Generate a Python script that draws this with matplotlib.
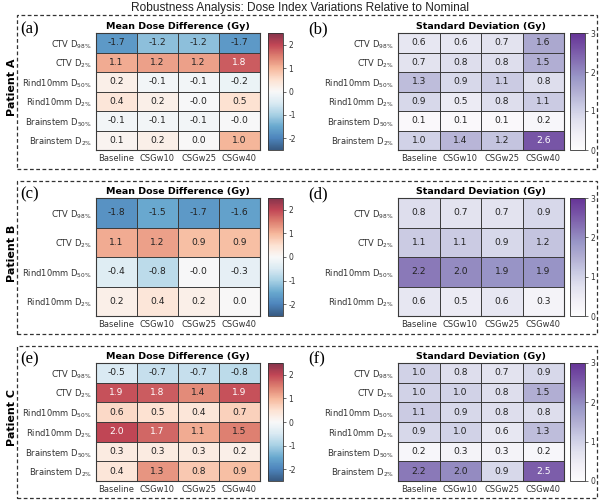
import matplotlib
matplotlib.use("Agg")
import matplotlib.pyplot as plt
from matplotlib.patches import Rectangle
import numpy as np

plt.rcParams["font.family"] = "DejaVu Sans"
plt.rcParams["axes.unicode_minus"] = False

# -------------------------
# data
# -------------------------
methods = ["Baseline", "CSGw10", "CSGw25", "CSGw40"]

labels_full = ["CTV D$_{98\\%}$", "CTV D$_{2\\%}$", "Rind10mm D$_{50\\%}$",
               "Rind10mm D$_{2\\%}$", "Brainstem D$_{50\\%}$", "Brainstem D$_{2\\%}$"]
labels_b = labels_full[:4]

mean_a = [[-1.7, -1.2, -1.2, -1.7],
          [1.1, 1.2, 1.2, 1.8],
          [0.2, -0.1, -0.1, -0.2],
          [0.4, 0.2, -0.02, 0.5],
          [-0.1, -0.1, -0.1, -0.02],
          [0.1, 0.2, 0.0, 1.0]]
sd_a = [[0.6, 0.6, 0.7, 1.6],
        [0.7, 0.8, 0.8, 1.5],
        [1.3, 0.9, 1.1, 0.8],
        [0.9, 0.5, 0.8, 1.1],
        [0.1, 0.1, 0.1, 0.2],
        [1.0, 1.4, 1.2, 2.6]]

mean_b = [[-1.8, -1.5, -1.7, -1.6],
          [1.1, 1.2, 0.9, 0.9],
          [-0.4, -0.8, -0.02, -0.3],
          [0.2, 0.4, 0.2, 0.0]]
sd_b = [[0.8, 0.7, 0.7, 0.9],
        [1.1, 1.1, 0.9, 1.2],
        [2.2, 2.0, 1.9, 1.9],
        [0.6, 0.5, 0.6, 0.3]]

mean_c = [[-0.5, -0.7, -0.7, -0.8],
          [1.9, 1.8, 1.4, 1.9],
          [0.6, 0.5, 0.4, 0.7],
          [2.0, 1.7, 1.1, 1.5],
          [0.3, 0.3, 0.3, 0.2],
          [0.4, 1.3, 0.8, 0.9]]
sd_c = [[1.0, 0.8, 0.7, 0.9],
        [1.0, 1.0, 0.8, 1.5],
        [1.1, 0.9, 0.8, 0.8],
        [0.9, 1.0, 0.6, 1.3],
        [0.2, 0.3, 0.3, 0.2],
        [2.2, 2.0, 0.9, 2.5]]

patients = ["Patient A", "Patient B", "Patient C"]
rows = [(mean_a, sd_a, labels_full, "(a)", "(b)"),
        (mean_b, sd_b, labels_b, "(c)", "(d)"),
        (mean_c, sd_c, labels_full, "(e)", "(f)")]

# layout (figure pixels, 600x500)
W, H = 600.0, 500.0
hm_rows = [(33, 150), (198, 316), (363, 481)]
box_rows = [(15, 169), (181, 334), (346, 498)]


def fx(px):
    return px / W


def fy(py):
    return 1 - py / H


def draw_heat(ax, cax, data, ylabels, cmap, vmin, vmax, white_at, title, ticks):
    data = np.array(data)
    nr, nc = data.shape
    m = ax.pcolormesh(data, cmap=cmap, vmin=vmin, vmax=vmax, alpha=0.8)
    ax.set_xlim(0, nc)
    ax.set_ylim(nr, 0)
    # cell borders
    for i in range(1, nr):
        ax.axhline(i, color="#3a3a3a", lw=0.7)
    for j in range(1, nc):
        ax.axvline(j, color="#3a3a3a", lw=0.7)
    for i in range(nr):
        for j in range(nc):
            v = data[i, j]
            col = "white" if white_at(v) else "#222222"
            ax.text(j + 0.5, i + 0.5, f"{v:.1f}", ha="center", va="center",
                    fontsize=6.6, color=col)
    ax.set_xticks(np.arange(nc) + 0.5)
    ax.set_xticklabels(methods, fontsize=6, color="#333333")
    ax.set_yticks(np.arange(nr) + 0.5)
    ax.set_yticklabels(ylabels, fontsize=6, color="#333333")
    ax.tick_params(length=0, pad=3)
    for s in ax.spines.values():
        s.set_color("#3a3a3a")
        s.set_linewidth(0.8)
    ax.set_title(title, fontsize=6.8, fontweight="bold", pad=3)

    cb = plt.colorbar(m, cax=cax, ticks=ticks)
    cb.ax.tick_params(labelsize=5.5, length=2, width=0.5, pad=2, colors="#333333")
    cb.outline.set_linewidth(0.6)
    cb.outline.set_edgecolor("#333333")


fig = plt.figure(figsize=(6, 5), dpi=100)

fig.text(0.5, fy(8), "Robustness Analysis: Dose Index Variations Relative to Nominal",
         ha="center", va="center", fontsize=8.6, color="#222222",
         family="Liberation Sans")

for k, (mean, sd, ylabs, la, lb) in enumerate(rows):
    top, bot = hm_rows[k]
    b_top, b_bot = box_rows[k]

    fig.patches.append(Rectangle((fx(17), fy(b_bot)), fx(580), (b_bot - b_top) / H,
                                 transform=fig.transFigure, fill=False,
                                 linestyle=(0, (3, 2)), linewidth=0.9,
                                 edgecolor="#333333"))

    h = (bot - top) / H
    ax1 = fig.add_axes([fx(96), fy(bot), fx(164), h])
    cax1 = fig.add_axes([fx(268), fy(bot), fx(15), h])
    ax2 = fig.add_axes([fx(398), fy(bot), fx(166), h])
    cax2 = fig.add_axes([fx(570), fy(bot), fx(15), h])

    draw_heat(ax1, cax1, mean, ylabs, "RdBu_r", -2.5, 2.5,
              lambda v: v >= 1.7, "Mean Dose Difference (Gy)", [-2, -1, 0, 1, 2])
    draw_heat(ax2, cax2, sd, ylabs, "Purples", 0, 3,
              lambda v: v >= 2.4, "Standard Deviation (Gy)", [0, 1, 2, 3])

    fig.text(fx(20), fy(top - 4), la, family="Liberation Serif", fontsize=12,
             ha="left", va="center")
    fig.text(fx(308), fy(top - 4), lb, family="Liberation Serif", fontsize=12,
             ha="left", va="center")

    fig.text(fx(12), fy((top + bot) / 2 - 4), patients[k], rotation=90,
             fontsize=8, fontweight="bold", ha="center", va="center")

fig.savefig("out.png", dpi=100)
